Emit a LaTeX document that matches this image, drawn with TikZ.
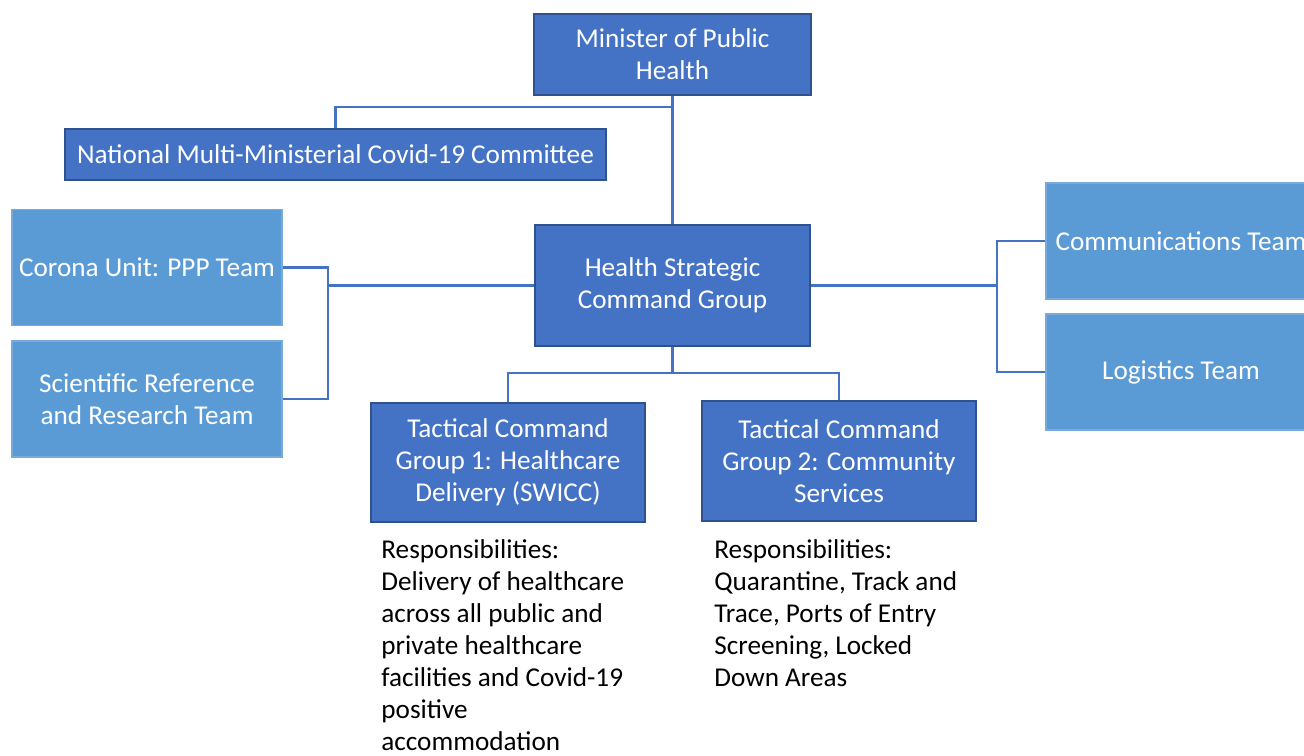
\documentclass[tikz,border=0pt]{standalone}
\usepackage{fontspec}
\setmainfont{Carlito}
\usepackage{tikz}
\usetikzlibrary{calc}
\definecolor{darkbox}{RGB}{68,114,196}
\definecolor{darkedge}{RGB}{47,82,143}
\definecolor{lightbox}{RGB}{91,155,213}
\definecolor{lightedge}{RGB}{120,170,220}
\definecolor{linkblue}{RGB}{68,114,196}

\begin{document}
\begin{tikzpicture}[x=0.5pt,y=-0.5pt,
    every node/.style={font=\fontsize{13.6pt}{16pt}\selectfont},
    darknode/.style={draw=darkedge,line width=1pt,fill=darkbox,text=white,align=center,inner sep=2pt},
    lightnode/.style={draw=lightedge,line width=0.6pt,fill=lightbox,text=white,align=center,inner sep=2pt,
      minimum width=135pt,minimum height=58pt},
    notes/.style={align=left,anchor=north west,inner sep=0pt,text=black},
    conn/.style={draw=linkblue,line width=1.1pt}]
  \clip (0,0) rectangle (1304,755);
  \fill[white] (0,0) rectangle (1304,755);

  \node[darknode,minimum width=138.5pt,minimum height=40.5pt] (minister) at (672.5,54.5) {Minister of Public\\Health};
  \node[darknode,minimum width=270.5pt,minimum height=25.5pt] (natl) at (335.5,154.5) {National Multi-Ministerial Covid-19 Committee};
  \node[darknode,minimum width=137.5pt,minimum height=60.5pt] (hscg) at (672.5,285.5) {Health Strategic\\Command Group};
  \node[lightnode] (corona) at (147,267.5) {Corona Unit: PPP Team};
  \node[lightnode] (sci) at (147,399) {Scientific Reference\\and Research Team};
  \node[lightnode] (comms) at (1181,241) {Communications Team};
  \node[lightnode] (logis) at (1181,372) {Logistics Team};
  \node[darknode,minimum width=137pt,minimum height=59.5pt] (tcg1) at (508,462.5) {Tactical Command\\Group 1: Healthcare\\Delivery (SWICC)};
  \node[darknode,minimum width=137pt,minimum height=60pt] (tcg2) at (839,461) {Tactical Command\\Group 2: Community\\Services};

  \node[notes] (resp1) at (381,539) {Responsibilities:\\Delivery of healthcare\\across all public and\\private healthcare\\facilities and Covid-19\\positive\\accommodation};
  \node[notes] (resp2) at (714,539) {Responsibilities:\\Quarantine, Track and\\Trace, Ports of Entry\\Screening, Locked\\Down Areas};

  % junctions
  \coordinate (jtop) at (672.5,107);
  \coordinate (jleft) at (328,285.5);
  \coordinate (jright) at (997,285.5);
  \coordinate (jbot) at (672.5,373);

  \path[conn]
  (minister.south) edge (hscg.north)
  (natl.north) edge[to path={|- (\tikztotarget)}] (jtop)
  (hscg.west) edge (jleft)
  (corona.east) edge[to path={-| (\tikztotarget)}] (jleft)
  (sci.east) edge[to path={-| (\tikztotarget)}] (jleft)
  (hscg.east) edge (jright)
  (comms.west) edge[to path={-| (\tikztotarget)}] (jright)
  (logis.west) edge[to path={-| (\tikztotarget)}] (jright)
  (hscg.south) edge (jbot)
  (tcg1.north) edge[to path={|- (\tikztotarget)}] (jbot)
  (tcg2.north) edge[to path={|- (\tikztotarget)}] (jbot);
\end{tikzpicture}
\end{document}
